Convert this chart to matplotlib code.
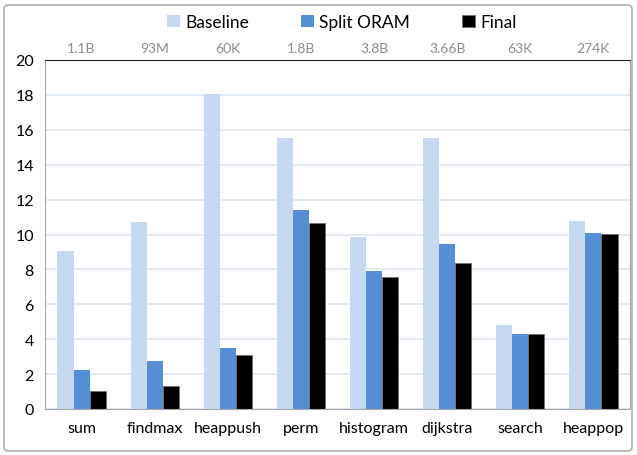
import matplotlib
matplotlib.use("Agg")
import matplotlib.pyplot as plt
import numpy as np
from matplotlib.patches import FancyBboxPatch

categories = ["sum", "findmax", "heappush", "perm", "histogram", "dijkstra", "search", "heappop"]
top_labels = ["1.1B", "93M", "60K", "1.8B", "3.8B", "3.66B", "63K", "274K"]
baseline = [9.06, 10.71, 18.07, 15.54, 9.86, 15.54, 4.82, 10.76]
split_oram = [2.23, 2.76, 3.51, 11.42, 7.93, 9.44, 4.31, 10.10]
final = [1.01, 1.33, 3.11, 10.68, 7.55, 8.35, 4.31, 10.01]
series_names = ["Baseline", "Split ORAM", "Final"]

plt.rcParams['font.family'] = ['Lato', 'DejaVu Sans']

fig = plt.figure(figsize=(6.37, 4.56), dpi=100)
ax = fig.add_axes([45/637, 1-410/456, (630-45)/637, (410-61)/456])

x = np.arange(len(categories))
w = 0.22
ax.bar(x - w, baseline, w, color="#c6d9f1", label=series_names[0], zorder=2)
ax.bar(x, split_oram, w, color="#558ed5", label=series_names[1], zorder=2)
ax.bar(x + w, final, w, color="#000000", edgecolor="#707070", linewidth=0.6, label=series_names[2], zorder=2)

ax.set_xlim(-0.5, len(categories) - 0.5)
ax.set_ylim(0, 20)
ax.set_yticks(np.arange(0, 21, 2))
ax.yaxis.grid(True, color="#dce6f4", linewidth=1.2, zorder=0)
ax.set_axisbelow(True)
ax.tick_params(axis='y', length=0, labelsize=11.5, pad=8)
ax.set_xticks(x)
ax.set_xticklabels(categories, fontsize=11.5)
ax.tick_params(axis='x', length=0, pad=9)
for s in ["left", "right", "bottom"]:
    ax.spines[s].set_color("#a6a6a6")
ax.spines["top"].set_color("#222222")

ax2 = ax.twiny()
ax2.set_xlim(ax.get_xlim())
ax2.set_xticks(x)
ax2.set_xticklabels(top_labels, fontsize=10, color="#8c8c8c")
ax2.tick_params(axis='x', length=0, pad=4)
for s in ax2.spines.values():
    s.set_visible(False)

leg = fig.legend(loc="center", bbox_to_anchor=(342/637, 1-23/456), ncol=3, frameon=False,
                 fontsize=12.5, handlelength=0.75, handleheight=0.75, handletextpad=0.3,
                 columnspacing=3.0)

fig.patches.append(FancyBboxPatch((4/637, 4/456), 628/637, 446/456,
                                  boxstyle="round,pad=0,rounding_size=0.008",
                                  transform=fig.transFigure, fill=False,
                                  edgecolor="#a0a0a0", linewidth=1))

fig.savefig("out.png", dpi=100)
